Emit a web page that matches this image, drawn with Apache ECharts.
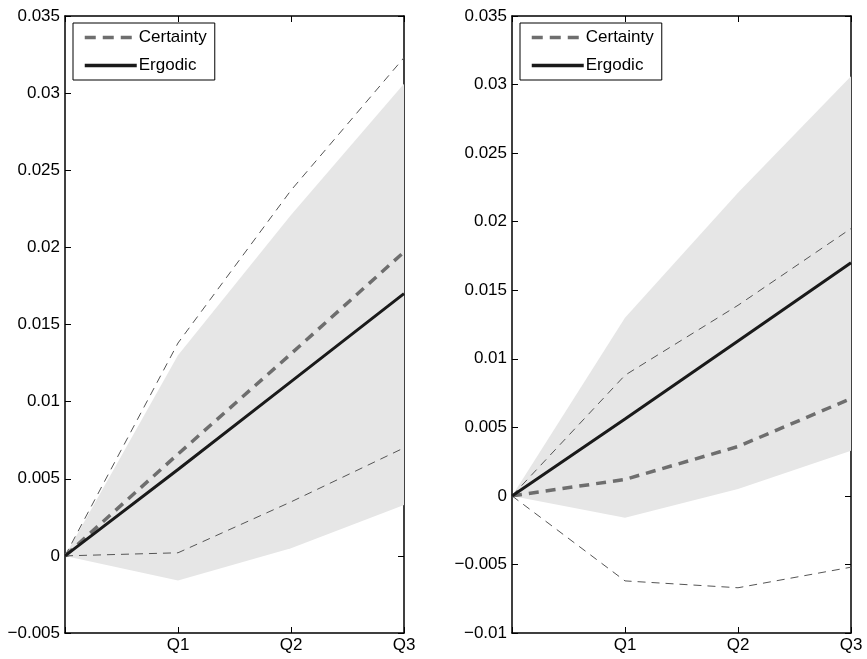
<!DOCTYPE html>
<html><head><meta charset="utf-8">
<script src="https://cdn.jsdelivr.net/npm/echarts@6/dist/echarts.min.js"></script>
<style>html,body{margin:0;padding:0;background:#fff}#c{width:867px;height:659px}</style>
</head><body><div id="c"></div>
<script>
// Data
const quarters = ['', 'Q1', 'Q2', 'Q3'];
const bandLower = [0, -0.0016, 0.0005, 0.0033];
const bandUpper = [0, 0.0130, 0.0221, 0.0306];
const ergodic = [0, 0.0056, 0.0113, 0.0170];
const leftCertainty = [0, 0.0066, 0.0131, 0.0197];
const leftUpper = [0, 0.0138, 0.0237, 0.0323];
const leftLower = [0, 0.0002, 0.0035, 0.0070];
const rightCertainty = [0, 0.0012, 0.0036, 0.0071];
const rightUpper = [0, 0.0088, 0.0139, 0.0195];
const rightLower = [0, -0.0062, -0.0067, -0.0052];
const leftTicks = {min: -0.005, max: 0.035, interval: 0.005};
const rightTicks = {min: -0.01, max: 0.035, interval: 0.005};

const FONT = 'Liberation Sans, Arial, Helvetica, sans-serif';
const fmt = v => { const r = parseFloat(v.toFixed(4)); return r === 0 ? '0' : String(r).replace('-', '\u2212'); };
const axisLine = {show: true, onZero: false, lineStyle: {color: '#000', width: 1.5}};
const tick = {show: true, inside: true, length: 6, lineStyle: {color: '#000', width: 1}};

const grids = [
  {left: 65, right: 463, top: 16, bottom: 26},
  {left: 512, right: 16, top: 16, bottom: 26}
];
const xAxes = [], yAxes = [];
grids.forEach((g, i) => {
  xAxes.push({type: 'category', gridIndex: i, data: quarters, boundaryGap: false, position: 'bottom',
    axisLine, axisTick: tick, splitLine: {show: false},
    axisLabel: {color: '#000', fontSize: 17, fontFamily: FONT, margin: 4}});
  xAxes.push({type: 'category', gridIndex: i, data: quarters, boundaryGap: false, position: 'top',
    axisLine, axisTick: tick, splitLine: {show: false}, axisLabel: {show: false}});
  const t = i === 0 ? leftTicks : rightTicks;
  yAxes.push({type: 'value', gridIndex: i, min: t.min, max: t.max, interval: t.interval, position: 'left',
    axisLine, axisTick: tick, splitLine: {show: false},
    axisLabel: {color: '#000', fontSize: 17, fontFamily: FONT, margin: 5, formatter: fmt}});
  yAxes.push({type: 'value', gridIndex: i, min: t.min, max: t.max, interval: t.interval, position: 'right',
    axisLine, axisTick: tick, splitLine: {show: false}, axisLabel: {show: false}});
});

const certStyle = {color: '#6e6e6e', width: 3.5, type: [10, 7]};
const ergStyle = {color: '#1a1a1a', width: 3};

function panel(i, cert, up, lo) {
  const xi = i * 2, yi = i * 2;
  const base = {type: 'line', xAxisIndex: xi, yAxisIndex: yi, showSymbol: false, symbol: 'none', animation: false, silent: true};
  return [
    Object.assign({}, base, {name: 'bandLo' + i, data: bandLower, stack: 'band' + i, stackStrategy: 'all',
      lineStyle: {width: 0, opacity: 0}, z: 1}),
    Object.assign({}, base, {name: 'bandHi' + i, data: bandUpper.map((v, k) => v - bandLower[k]), stack: 'band' + i, stackStrategy: 'all',
      lineStyle: {width: 0, opacity: 0}, areaStyle: {color: '#e6e6e6', opacity: 1}, z: 1}),
    Object.assign({}, base, {name: 'up' + i, data: up, lineStyle: {color: '#555', width: 1, type: [8, 6]}, z: 3}),
    Object.assign({}, base, {name: 'lo' + i, data: lo, lineStyle: {color: '#555', width: 1, type: [8, 6]}, z: 3}),
    Object.assign({}, base, {name: 'Certainty', data: cert, lineStyle: certStyle, itemStyle: {color: '#6e6e6e'}, z: 4}),
    Object.assign({}, base, {name: 'Ergodic', data: ergodic, lineStyle: ergStyle, itemStyle: {color: '#1a1a1a'}, z: 5})
  ];
}

const legendBase = {orient: 'vertical',
  data: [
    {name: 'Certainty', itemStyle: {opacity: 0}, lineStyle: {color: '#6e6e6e', width: 3.5, type: [11, 7]}},
    {name: 'Ergodic', itemStyle: {opacity: 0}, lineStyle: {color: '#1a1a1a', width: 3.5}}
  ],
  itemWidth: 52, itemHeight: 14, itemGap: 11,
  borderColor: '#000', borderWidth: 1, borderRadius: 0, padding: [6, 8, 6, 10], backgroundColor: '#fff',
  textStyle: {color: '#000', fontSize: 17, fontFamily: FONT, padding: [0, 0, 0, -3]}};

const chart = echarts.init(document.getElementById('c'), null, {renderer: 'canvas'});
chart.setOption({
  animation: false,
  backgroundColor: '#fff',
  grid: grids,
  xAxis: xAxes,
  yAxis: yAxes,
  legend: [
    Object.assign({}, legendBase, {left: 73, top: 23}),
    Object.assign({}, legendBase, {left: 520, top: 23})
  ],
  series: [].concat(panel(0, leftCertainty, leftUpper, leftLower), panel(1, rightCertainty, rightUpper, rightLower))
});
</script></body></html>
